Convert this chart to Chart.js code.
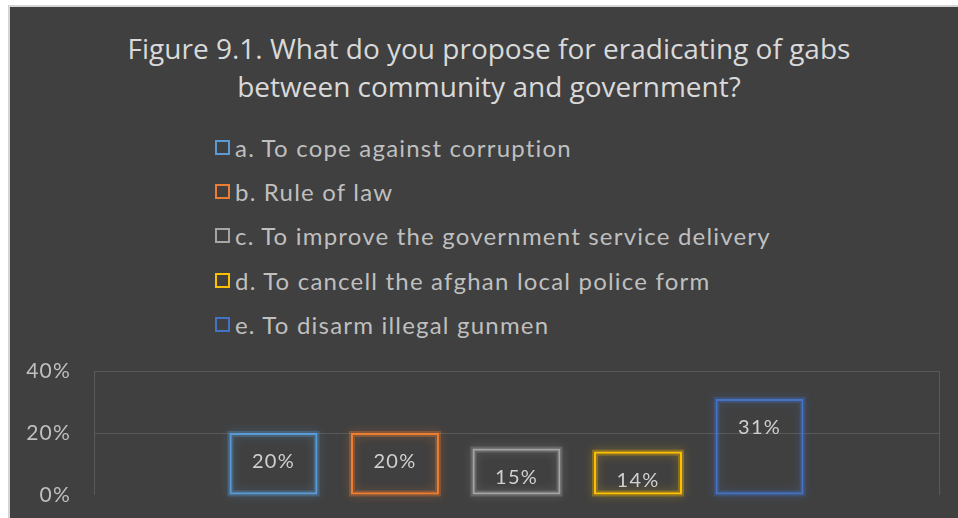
<!DOCTYPE html>
<html>
<head>
<meta charset="utf-8">
<script src="https://cdn.jsdelivr.net/npm/chart.js@4"></script>
<style>
  body { margin: 0; background: #fff; }
  #wrap { position: relative; width: 958px; height: 518px; overflow: hidden; }
  #frame {
    position: absolute; left: 8px; top: 5px; right: 0; bottom: 0;
    background: #404040;
    border-left: 2px solid #d4d4d4; border-top: 2px solid #d4d4d4;
  }
  #title {
    position: absolute; left: 0; width: 978px; top: 29px;
    text-align: center; color: #d9d9d9;
    font: 28px "Open Sans", sans-serif; line-height: 38px;
  }
  #legend { position: absolute; left: 215px; top: 125px; }
  .item {
    height: 44.3px; display: flex; align-items: center;
    font: 24px Lato, sans-serif; letter-spacing: 1.2px; color: #bfbfbf;
  }
  .box { width: 11px; height: 11px; border: 2px solid; margin-right: 5px; }
  canvas { position: absolute; left: 0; top: 0; }
</style>
</head>
<body>
<div id="wrap">
  <div id="frame"></div>
  <div id="title">Figure 9.1. What do you propose for eradicating of gabs<br>between community and government?</div>
  <div id="legend"></div>
  <canvas id="c" width="958" height="518"></canvas>
</div>
<script>
const categories = [""];
const seriesNames = [
  "a. To cope against corruption",
  "b. Rule of law",
  "c. To improve the government service delivery",
  "d. To cancell the afghan local police form",
  "e. To disarm illegal gunmen",
];
const seriesValues = [20, 20, 15, 14, 31];
const seriesColors = ["#5B9BD5", "#ED7D31", "#A5A5A5", "#FFC000", "#4472C4"];
const yTicks = [0, 20, 40];

const rgba = (hex, a) => {
  const n = parseInt(hex.slice(1), 16);
  return `rgba(${n >> 16},${(n >> 8) & 255},${n & 255},${a})`;
};

document.getElementById("legend").innerHTML = seriesNames
  .map(
    (name, i) =>
      `<div class="item"><span class="box" style="border-color:${seriesColors[i]}"></span>${name}</div>`
  )
  .join("");

// wider letter spacing for all canvas text
const spacing = {
  id: "spacing",
  beforeDraw(chart) {
    chart.ctx.letterSpacing = "1.2px";
  },
};

// soft outer glow behind each outlined bar
const glow = {
  id: "glow",
  beforeDatasetDraw(chart, args) {
    const ctx = chart.ctx;
    const color = seriesColors[args.index];
    ctx.save();
    ctx.shadowColor = rgba(color, 0.8);
    ctx.shadowBlur = 10;
    ctx.strokeStyle = rgba(color, 0.3);
    ctx.lineWidth = 6;
    args.meta.data.forEach((bar) => {
      const { x, y, base, width } = bar.getProps(["x", "y", "base", "width"], true);
      ctx.strokeRect(x - width / 2 + 1, y + 1, width - 2, base - y - 2);
    });
    ctx.restore();
  },
};

// value labels just inside the top of each bar
const valueLabels = {
  id: "valueLabels",
  afterDatasetsDraw(chart) {
    const ctx = chart.ctx;
    ctx.save();
    ctx.font = "20px Lato, sans-serif";
    ctx.fillStyle = "#d0d0d0";
    ctx.textAlign = "center";
    ctx.textBaseline = "middle";
    chart.data.datasets.forEach((ds, i) => {
      chart.getDatasetMeta(i).data.forEach((bar, j) => {
        ctx.fillText(ds.data[j] + "%", bar.x, bar.y + 29);
      });
    });
    ctx.restore();
  },
};

new Chart(document.getElementById("c"), {
  type: "bar",
  data: {
    labels: categories,
    datasets: seriesNames.map((name, i) => ({
      label: name,
      data: [seriesValues[i]],
      borderColor: seriesColors[i],
      backgroundColor: "rgba(0,0,0,0)",
      borderWidth: 2,
      borderSkipped: false,
      categoryPercentage: 0.719,
      barPercentage: 0.724,
      clip: 8,
    })),
  },
  options: {
    responsive: false,
    animation: false,
    events: [],
    layout: { padding: { top: 371, bottom: 23, left: 10, right: 19 } },
    plugins: { legend: { display: false }, tooltip: { enabled: false } },
    scales: {
      x: {
        ticks: { display: false },
        grid: { color: "#595959", lineWidth: 1, drawTicks: false },
        border: { display: false },
      },
      y: {
        min: yTicks[0],
        max: yTicks[yTicks.length - 1],
        afterBuildTicks: (s) => (s.ticks = yTicks.map((v) => ({ value: v }))),
        afterFit: (s) => (s.width = 84),
        ticks: {
          padding: 0,
          color: "#bfbfbf",
          font: { family: "Lato", size: 21 },
          callback: (v) => v + "%",
        },
        grid: {
          color: (c) => (c.tick.value === 0 ? "rgba(0,0,0,0)" : "#595959"),
          tickLength: 23,
          tickColor: "rgba(0,0,0,0)",
        },
        border: { display: false },
      },
    },
  },
  plugins: [spacing, glow, valueLabels],
});
</script>
</body>
</html>
